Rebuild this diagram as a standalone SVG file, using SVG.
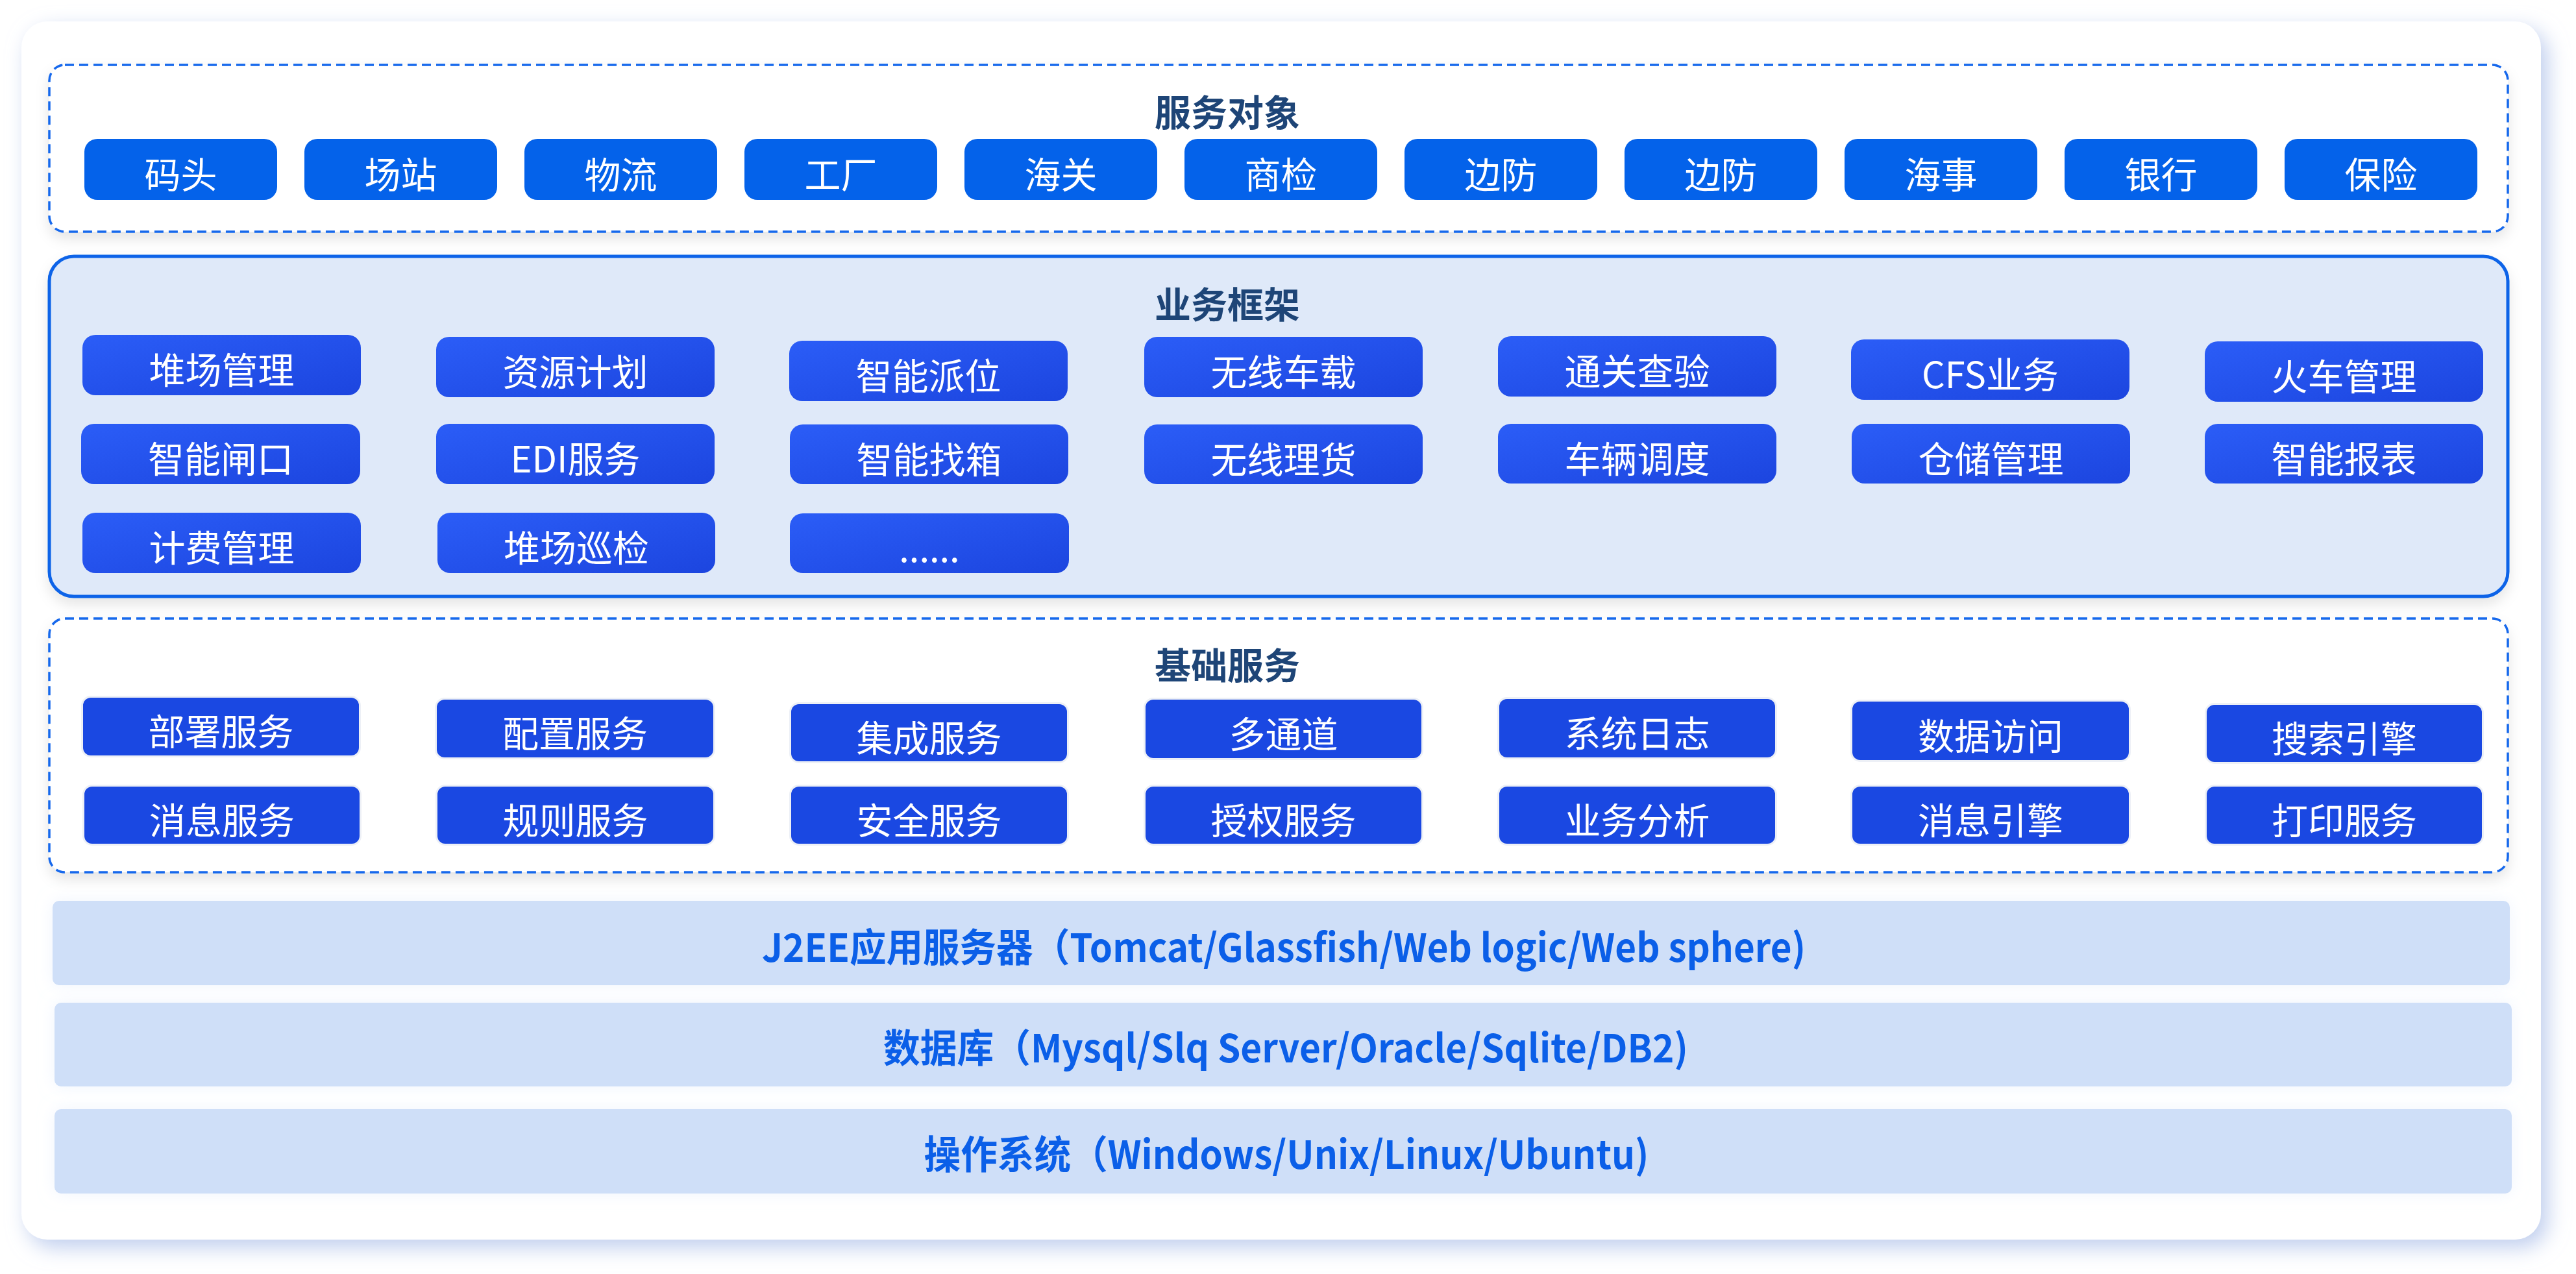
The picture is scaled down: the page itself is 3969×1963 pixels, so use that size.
<svg xmlns="http://www.w3.org/2000/svg" width="3969" height="1963" viewBox="0 0 3969 1963">
<defs>
  <linearGradient id="gBiz" x1="0" y1="0" x2="1" y2="1">
    <stop offset="0" stop-color="#2b5df7"/>
    <stop offset="1" stop-color="#1c45df"/>
  </linearGradient>
  <filter id="fCard" x="-5%" y="-5%" width="110%" height="115%">
    <feDropShadow dx="10" dy="12" stdDeviation="16" flood-color="#a9bde8" flood-opacity="0.75"/>
  </filter>
  <filter id="fBox" x="-5%" y="-10%" width="110%" height="130%">
    <feDropShadow dx="0" dy="10" stdDeviation="10" flood-color="#000000" flood-opacity="0.10"/>
  </filter>
  <filter id="fBar" x="-5%" y="-30%" width="110%" height="160%">
    <feDropShadow dx="0" dy="0" stdDeviation="12" flood-color="#e6eefb" flood-opacity="0.6"/>
  </filter>
</defs>
<style>
  .card { fill:#ffffff; }
  .dash { fill:#ffffff; stroke:#1668ec; stroke-width:3.5; stroke-dasharray:14 8; }
  .frame { fill:#dfe9f9; stroke:#0a64e8; stroke-width:5; }
  .obj { fill:#0462ea; }
  .biz { fill:url(#gBiz); }
  .base { fill:#1a48e2; stroke:#edf0f6; stroke-width:6; paint-order:stroke; }
  .bar { fill:#cfdff8; }
  .lbl { font-family:"Noto Sans CJK SC","Noto Sans",sans-serif; font-size:56px; fill:#ffffff; text-anchor:middle; dominant-baseline:central; }
  .ttl { font-family:"Noto Sans CJK SC","Noto Sans",sans-serif; font-size:56px; font-weight:700; fill:#1e4577; text-anchor:middle; dominant-baseline:central; }
  .btx { font-family:"Noto Sans CJK SC","Noto Sans",sans-serif; font-size:60px; font-weight:700; fill:#0b5fe8; text-anchor:middle; dominant-baseline:central; }
</style>

<rect width="3969" height="1963" fill="#ffffff"/>
<rect class="card" x="33" y="33" width="3882" height="1877" rx="40" filter="url(#fCard)"/>

<!-- 服务对象 -->
<g id="layer-service-objects">
  <rect class="dash" x="76" y="100" width="3788" height="257" rx="24" filter="url(#fBox)"/>
  <text class="ttl" x="1891" y="169">服务对象</text>
</g>
<g id="obj-1"><rect class="obj" x="130" y="214" width="297" height="94" rx="20"/><text class="lbl" x="278.5" y="265">码头</text></g>
<g id="obj-2"><rect class="obj" x="469" y="214" width="297" height="94" rx="20"/><text class="lbl" x="617.5" y="265">场站</text></g>
<g id="obj-3"><rect class="obj" x="808" y="214" width="297" height="94" rx="20"/><text class="lbl" x="956.5" y="265">物流</text></g>
<g id="obj-4"><rect class="obj" x="1147" y="214" width="297" height="94" rx="20"/><text class="lbl" x="1295.5" y="265">工厂</text></g>
<g id="obj-5"><rect class="obj" x="1486" y="214" width="297" height="94" rx="20"/><text class="lbl" x="1634.5" y="265">海关</text></g>
<g id="obj-6"><rect class="obj" x="1825" y="214" width="297" height="94" rx="20"/><text class="lbl" x="1973.5" y="265">商检</text></g>
<g id="obj-7"><rect class="obj" x="2164" y="214" width="297" height="94" rx="20"/><text class="lbl" x="2312.5" y="265">边防</text></g>
<g id="obj-8"><rect class="obj" x="2503" y="214" width="297" height="94" rx="20"/><text class="lbl" x="2651.5" y="265">边防</text></g>
<g id="obj-9"><rect class="obj" x="2842" y="214" width="297" height="94" rx="20"/><text class="lbl" x="2990.5" y="265">海事</text></g>
<g id="obj-10"><rect class="obj" x="3181" y="214" width="297" height="94" rx="20"/><text class="lbl" x="3329.5" y="265">银行</text></g>
<g id="obj-11"><rect class="obj" x="3520" y="214" width="297" height="94" rx="20"/><text class="lbl" x="3668.5" y="265">保险</text></g>

<!-- 业务框架 -->
<g id="layer-business">
  <rect class="frame" x="76" y="395" width="3788" height="524" rx="38" filter="url(#fBox)"/>
  <text class="ttl" x="1891" y="465">业务框架</text>
</g>
<g id="biz-1"><rect class="biz" x="127" y="516" width="429" height="93" rx="20"/><text class="lbl" x="341.5" y="566">堆场管理</text></g>
<g id="biz-2"><rect class="biz" x="672" y="519" width="429" height="93" rx="20"/><text class="lbl" x="886.5" y="569">资源计划</text></g>
<g id="biz-3"><rect class="biz" x="1216" y="525" width="429" height="93" rx="20"/><text class="lbl" x="1430.5" y="575">智能派位</text></g>
<g id="biz-4"><rect class="biz" x="1763" y="519" width="429" height="93" rx="20"/><text class="lbl" x="1977.5" y="569">无线车载</text></g>
<g id="biz-5"><rect class="biz" x="2308" y="518" width="429" height="93" rx="20"/><text class="lbl" x="2522.5" y="568">通关查验</text></g>
<g id="biz-6"><rect class="biz" x="2852" y="523" width="429" height="93" rx="20"/><text class="lbl" x="3066.5" y="573">CFS业务</text></g>
<g id="biz-7"><rect class="biz" x="3397" y="526" width="429" height="93" rx="20"/><text class="lbl" x="3611.5" y="576">火车管理</text></g>
<g id="biz-8"><rect class="biz" x="125" y="653" width="430" height="93" rx="20"/><text class="lbl" x="340" y="703">智能闸口</text></g>
<g id="biz-9"><rect class="biz" x="672" y="653" width="429" height="93" rx="20"/><text class="lbl" x="886.5" y="703">EDI服务</text></g>
<g id="biz-10"><rect class="biz" x="1217" y="654" width="429" height="92" rx="20"/><text class="lbl" x="1431.5" y="704">智能找箱</text></g>
<g id="biz-11"><rect class="biz" x="1763" y="654" width="429" height="92" rx="20"/><text class="lbl" x="1977.5" y="704">无线理货</text></g>
<g id="biz-12"><rect class="biz" x="2308" y="653" width="429" height="92" rx="20"/><text class="lbl" x="2522.5" y="703">车辆调度</text></g>
<g id="biz-13"><rect class="biz" x="2853" y="653" width="429" height="92" rx="20"/><text class="lbl" x="3067.5" y="703">仓储管理</text></g>
<g id="biz-14"><rect class="biz" x="3397" y="653" width="429" height="92" rx="20"/><text class="lbl" x="3611.5" y="703">智能报表</text></g>
<g id="biz-15"><rect class="biz" x="127" y="790" width="429" height="93" rx="20"/><text class="lbl" x="341.5" y="840">计费管理</text></g>
<g id="biz-16"><rect class="biz" x="674" y="790" width="428" height="93" rx="20"/><text class="lbl" x="888" y="840">堆场巡检</text></g>
<g id="biz-17"><rect class="biz" x="1217" y="791" width="430" height="92" rx="20"/><text class="lbl" x="1432" y="841">......</text></g>

<!-- 基础服务 -->
<g id="layer-basic">
  <rect class="dash" x="76" y="953" width="3788" height="391" rx="24" filter="url(#fBox)"/>
  <text class="ttl" x="1891" y="1021">基础服务</text>
</g>
<g id="base-1"><rect class="base" x="128" y="1075" width="425" height="89" rx="12"/><text class="lbl" x="340.5" y="1123">部署服务</text></g>
<g id="base-2"><rect class="base" x="673" y="1078" width="426" height="89" rx="12"/><text class="lbl" x="886" y="1126">配置服务</text></g>
<g id="base-3"><rect class="base" x="1219" y="1085" width="425" height="88" rx="12"/><text class="lbl" x="1431.5" y="1133">集成服务</text></g>
<g id="base-4"><rect class="base" x="1765" y="1078" width="425" height="90" rx="12"/><text class="lbl" x="1977.5" y="1127">多通道</text></g>
<g id="base-5"><rect class="base" x="2310" y="1077" width="425" height="90" rx="12"/><text class="lbl" x="2522.5" y="1126">系统日志</text></g>
<g id="base-6"><rect class="base" x="2854" y="1081" width="426" height="90" rx="12"/><text class="lbl" x="3067" y="1130">数据访问</text></g>
<g id="base-7"><rect class="base" x="3400" y="1086" width="424" height="88" rx="12"/><text class="lbl" x="3612" y="1134">搜索引擎</text></g>
<g id="base-8"><rect class="base" x="130" y="1212" width="424" height="88" rx="12"/><text class="lbl" x="342" y="1260">消息服务</text></g>
<g id="base-9"><rect class="base" x="674" y="1212" width="425" height="88" rx="12"/><text class="lbl" x="886.5" y="1260">规则服务</text></g>
<g id="base-10"><rect class="base" x="1219" y="1212" width="425" height="88" rx="12"/><text class="lbl" x="1431.5" y="1260">安全服务</text></g>
<g id="base-11"><rect class="base" x="1765" y="1212" width="425" height="88" rx="12"/><text class="lbl" x="1977.5" y="1260">授权服务</text></g>
<g id="base-12"><rect class="base" x="2310" y="1212" width="425" height="88" rx="12"/><text class="lbl" x="2522.5" y="1260">业务分析</text></g>
<g id="base-13"><rect class="base" x="2854" y="1212" width="426" height="88" rx="12"/><text class="lbl" x="3067" y="1260">消息引擎</text></g>
<g id="base-14"><rect class="base" x="3400" y="1212" width="424" height="88" rx="12"/><text class="lbl" x="3612" y="1260">打印服务</text></g>

<!-- 底层 -->
<g id="bar-j2ee"><rect class="bar" x="81" y="1388" width="3786" height="130" rx="10" filter="url(#fBar)"/><text class="btx" x="1978" y="1455" textLength="1608" lengthAdjust="spacingAndGlyphs">J2EE应用服务器（Tomcat/Glassfish/Web logic/Web sphere)</text></g>
<g id="bar-db"><rect class="bar" x="84" y="1545" width="3786" height="129" rx="10" filter="url(#fBar)"/><text class="btx" x="1981" y="1610" textLength="1240" lengthAdjust="spacingAndGlyphs">数据库（Mysql/Slq Server/Oracle/Sqlite/DB2)</text></g>
<g id="bar-os"><rect class="bar" x="84" y="1709" width="3786" height="130" rx="10" filter="url(#fBar)"/><text class="btx" x="1982" y="1774" textLength="1117" lengthAdjust="spacingAndGlyphs">操作系统（Windows/Unix/Linux/Ubuntu)</text></g>

<g id="connectors"></g>
</svg>
